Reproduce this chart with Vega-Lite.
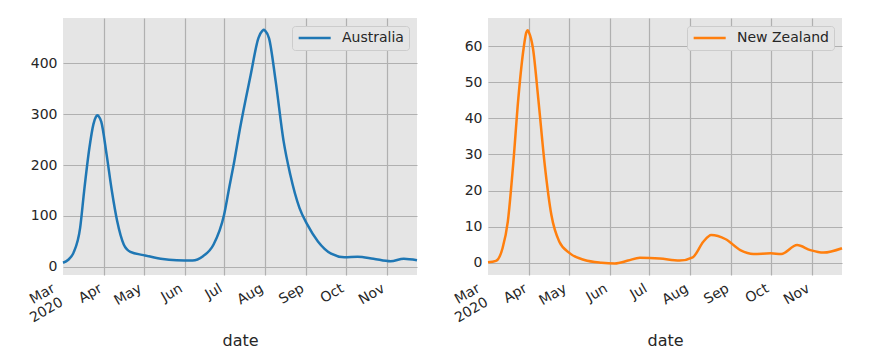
{
  "$schema": "https://vega.github.io/schema/vega-lite/v6.json",
  "padding": {"left": 19, "top": 18, "right": 5, "bottom": 5},
  "background": "white",
  "spacing": 22,
  "data": {"values": [
    {"country": "Australia", "date": "2020-03-01", "cases": 8},
    {"country": "Australia", "date": "2020-03-05", "cases": 14},
    {"country": "Australia", "date": "2020-03-09", "cases": 28},
    {"country": "Australia", "date": "2020-03-14", "cases": 77},
    {"country": "Australia", "date": "2020-03-17", "cases": 149},
    {"country": "Australia", "date": "2020-03-21", "cases": 234},
    {"country": "Australia", "date": "2020-03-24", "cases": 280},
    {"country": "Australia", "date": "2020-03-26", "cases": 295},
    {"country": "Australia", "date": "2020-03-27", "cases": 298},
    {"country": "Australia", "date": "2020-03-28", "cases": 296},
    {"country": "Australia", "date": "2020-03-30", "cases": 285},
    {"country": "Australia", "date": "2020-04-03", "cases": 221},
    {"country": "Australia", "date": "2020-04-07", "cases": 149},
    {"country": "Australia", "date": "2020-04-11", "cases": 90},
    {"country": "Australia", "date": "2020-04-16", "cases": 44},
    {"country": "Australia", "date": "2020-04-21", "cases": 29.5},
    {"country": "Australia", "date": "2020-05-01", "cases": 23},
    {"country": "Australia", "date": "2020-05-14", "cases": 16},
    {"country": "Australia", "date": "2020-05-26", "cases": 13},
    {"country": "Australia", "date": "2020-06-07", "cases": 12.5},
    {"country": "Australia", "date": "2020-06-15", "cases": 21},
    {"country": "Australia", "date": "2020-06-23", "cases": 44},
    {"country": "Australia", "date": "2020-07-01", "cases": 103},
    {"country": "Australia", "date": "2020-07-05", "cases": 158},
    {"country": "Australia", "date": "2020-07-08", "cases": 198},
    {"country": "Australia", "date": "2020-07-13", "cases": 272},
    {"country": "Australia", "date": "2020-07-21", "cases": 376},
    {"country": "Australia", "date": "2020-07-27", "cases": 450},
    {"country": "Australia", "date": "2020-07-30", "cases": 464},
    {"country": "Australia", "date": "2020-07-31", "cases": 466},
    {"country": "Australia", "date": "2020-08-01", "cases": 464},
    {"country": "Australia", "date": "2020-08-04", "cases": 449},
    {"country": "Australia", "date": "2020-08-09", "cases": 365},
    {"country": "Australia", "date": "2020-08-15", "cases": 247},
    {"country": "Australia", "date": "2020-08-20", "cases": 182},
    {"country": "Australia", "date": "2020-08-27", "cases": 116},
    {"country": "Australia", "date": "2020-09-02", "cases": 83},
    {"country": "Australia", "date": "2020-09-10", "cases": 50},
    {"country": "Australia", "date": "2020-09-20", "cases": 26},
    {"country": "Australia", "date": "2020-09-30", "cases": 19},
    {"country": "Australia", "date": "2020-10-10", "cases": 20},
    {"country": "Australia", "date": "2020-10-22", "cases": 16},
    {"country": "Australia", "date": "2020-11-04", "cases": 11},
    {"country": "Australia", "date": "2020-11-14", "cases": 16},
    {"country": "Australia", "date": "2020-11-24", "cases": 13},
    {"country": "New Zealand", "date": "2020-03-01", "cases": 0.1},
    {"country": "New Zealand", "date": "2020-03-07", "cases": 0.5},
    {"country": "New Zealand", "date": "2020-03-12", "cases": 4},
    {"country": "New Zealand", "date": "2020-03-16", "cases": 11.4},
    {"country": "New Zealand", "date": "2020-03-20", "cases": 27},
    {"country": "New Zealand", "date": "2020-03-24", "cases": 45.7},
    {"country": "New Zealand", "date": "2020-03-28", "cases": 59.5},
    {"country": "New Zealand", "date": "2020-03-30", "cases": 63.8},
    {"country": "New Zealand", "date": "2020-03-31", "cases": 64.4},
    {"country": "New Zealand", "date": "2020-04-01", "cases": 63.8},
    {"country": "New Zealand", "date": "2020-04-04", "cases": 59.5},
    {"country": "New Zealand", "date": "2020-04-08", "cases": 45.7},
    {"country": "New Zealand", "date": "2020-04-13", "cases": 27},
    {"country": "New Zealand", "date": "2020-04-18", "cases": 13.2},
    {"country": "New Zealand", "date": "2020-04-24", "cases": 5.8},
    {"country": "New Zealand", "date": "2020-05-02", "cases": 2.6},
    {"country": "New Zealand", "date": "2020-05-13", "cases": 0.75},
    {"country": "New Zealand", "date": "2020-05-26", "cases": 0},
    {"country": "New Zealand", "date": "2020-06-05", "cases": -0.2},
    {"country": "New Zealand", "date": "2020-06-15", "cases": 0.6},
    {"country": "New Zealand", "date": "2020-06-24", "cases": 1.4},
    {"country": "New Zealand", "date": "2020-07-09", "cases": 1.2},
    {"country": "New Zealand", "date": "2020-07-24", "cases": 0.6},
    {"country": "New Zealand", "date": "2020-08-03", "cases": 1.5},
    {"country": "New Zealand", "date": "2020-08-11", "cases": 5.8},
    {"country": "New Zealand", "date": "2020-08-17", "cases": 7.7},
    {"country": "New Zealand", "date": "2020-08-28", "cases": 6.5},
    {"country": "New Zealand", "date": "2020-09-08", "cases": 3.5},
    {"country": "New Zealand", "date": "2020-09-18", "cases": 2.4},
    {"country": "New Zealand", "date": "2020-10-01", "cases": 2.6},
    {"country": "New Zealand", "date": "2020-10-09", "cases": 2.4},
    {"country": "New Zealand", "date": "2020-10-21", "cases": 4.9},
    {"country": "New Zealand", "date": "2020-10-31", "cases": 3.5},
    {"country": "New Zealand", "date": "2020-11-10", "cases": 2.8},
    {"country": "New Zealand", "date": "2020-11-24", "cases": 4.0}
  ]},
  "config": {
    "view": {"fill": "#e5e5e5", "stroke": null},
    "axis": {
      "gridColor": "#b0b0b0", "gridWidth": 1.2, "domain": false, "ticks": false, "tickSize": 0,
      "labelFont": "DejaVu Sans", "labelFontSize": 14, "labelColor": "#262626", "labelPadding": 6,
      "labelLineHeight": 16,
      "titleFont": "DejaVu Sans", "titleFontSize": 16, "titleColor": "#262626", "titleFontWeight": "normal"
    },
    "legend": {
      "orient": "top-right", "offset": 8, "padding": 5,
      "fillColor": "#e5e5e5", "strokeColor": "#cccccc", "cornerRadius": 3,
      "symbolType": "M-1,0H5", "symbolSize": 114, "symbolStrokeWidth": 2.5, "symbolFillColor": "transparent",
      "labelFont": "DejaVu Sans", "labelFontSize": 14, "labelColor": "#262626", "labelOffset": 31
    }
  },
  "resolve": {"scale": {"x": "independent", "y": "independent", "color": "independent"}, "legend": {"color": "independent"}},
  "hconcat": [
    {
      "width": 354, "height": 257,
      "transform": [{"filter": "datum.country === 'Australia'"}],
      "mark": {"type": "line", "interpolate": "monotone", "strokeWidth": 2.5},
      "encoding": {
        "x": {"field": "date", "type": "temporal",
          "scale": {"type": "utc", "domain": [{"year": 2020, "month": 3, "date": 1, "utc": true}, {"year": 2020, "month": 11, "date": 24, "utc": true}]},
          "axis": {"title": "date", "titlePadding": 8,
            "values": [{"year": 2020, "month": 3, "date": 1, "utc": true}, {"year": 2020, "month": 4, "date": 1, "utc": true}, {"year": 2020, "month": 5, "date": 1, "utc": true}, {"year": 2020, "month": 6, "date": 1, "utc": true}, {"year": 2020, "month": 7, "date": 1, "utc": true}, {"year": 2020, "month": 8, "date": 1, "utc": true}, {"year": 2020, "month": 9, "date": 1, "utc": true}, {"year": 2020, "month": 10, "date": 1, "utc": true}, {"year": 2020, "month": 11, "date": 1, "utc": true}],
            "labelAngle": -30, "labelAlign": "right", "labelBaseline": "top",
            "labelOffset": {"condition": {"test": "utcmonth(datum.value) == 2", "value": -13}, "value": -7},
            "labelExpr": "utcmonth(datum.value) == 2 ? ['Mar', '2020'] : utcFormat(datum.value, '%b')",
            "gridColor": {"condition": {"test": "utcmonth(datum.value) == 2", "value": "transparent"}, "value": "#b0b0b0"}
          }
        },
        "y": {"field": "cases", "type": "quantitative",
          "scale": {"domain": [-16, 489], "nice": false, "zero": false},
          "axis": {"title": null, "values": [0, 100, 200, 300, 400]}
        },
        "color": {"field": "country", "type": "nominal", "scale": {"range": ["#1f77b4"]}, "legend": {"title": null}}
      }
    },
    {
      "width": 354, "height": 257,
      "transform": [{"filter": "datum.country === 'New Zealand'"}],
      "mark": {"type": "line", "interpolate": "monotone", "strokeWidth": 2.5},
      "encoding": {
        "x": {"field": "date", "type": "temporal",
          "scale": {"type": "utc", "domain": [{"year": 2020, "month": 3, "date": 1, "utc": true}, {"year": 2020, "month": 11, "date": 24, "utc": true}]},
          "axis": {"title": "date", "titlePadding": 8,
            "values": [{"year": 2020, "month": 3, "date": 1, "utc": true}, {"year": 2020, "month": 4, "date": 1, "utc": true}, {"year": 2020, "month": 5, "date": 1, "utc": true}, {"year": 2020, "month": 6, "date": 1, "utc": true}, {"year": 2020, "month": 7, "date": 1, "utc": true}, {"year": 2020, "month": 8, "date": 1, "utc": true}, {"year": 2020, "month": 9, "date": 1, "utc": true}, {"year": 2020, "month": 10, "date": 1, "utc": true}, {"year": 2020, "month": 11, "date": 1, "utc": true}],
            "labelAngle": -30, "labelAlign": "right", "labelBaseline": "top",
            "labelOffset": {"condition": {"test": "utcmonth(datum.value) == 2", "value": -13}, "value": -7},
            "labelExpr": "utcmonth(datum.value) == 2 ? ['Mar', '2020'] : utcFormat(datum.value, '%b')",
            "gridColor": {"condition": {"test": "utcmonth(datum.value) == 2", "value": "transparent"}, "value": "#b0b0b0"}
          }
        },
        "y": {"field": "cases", "type": "quantitative",
          "scale": {"domain": [-3.4, 67.8], "nice": false, "zero": false},
          "axis": {"title": null, "values": [0, 10, 20, 30, 40, 50, 60]}
        },
        "color": {"field": "country", "type": "nominal", "scale": {"range": ["#ff7f0e"]}, "legend": {"title": null}}
      }
    }
  ]
}
